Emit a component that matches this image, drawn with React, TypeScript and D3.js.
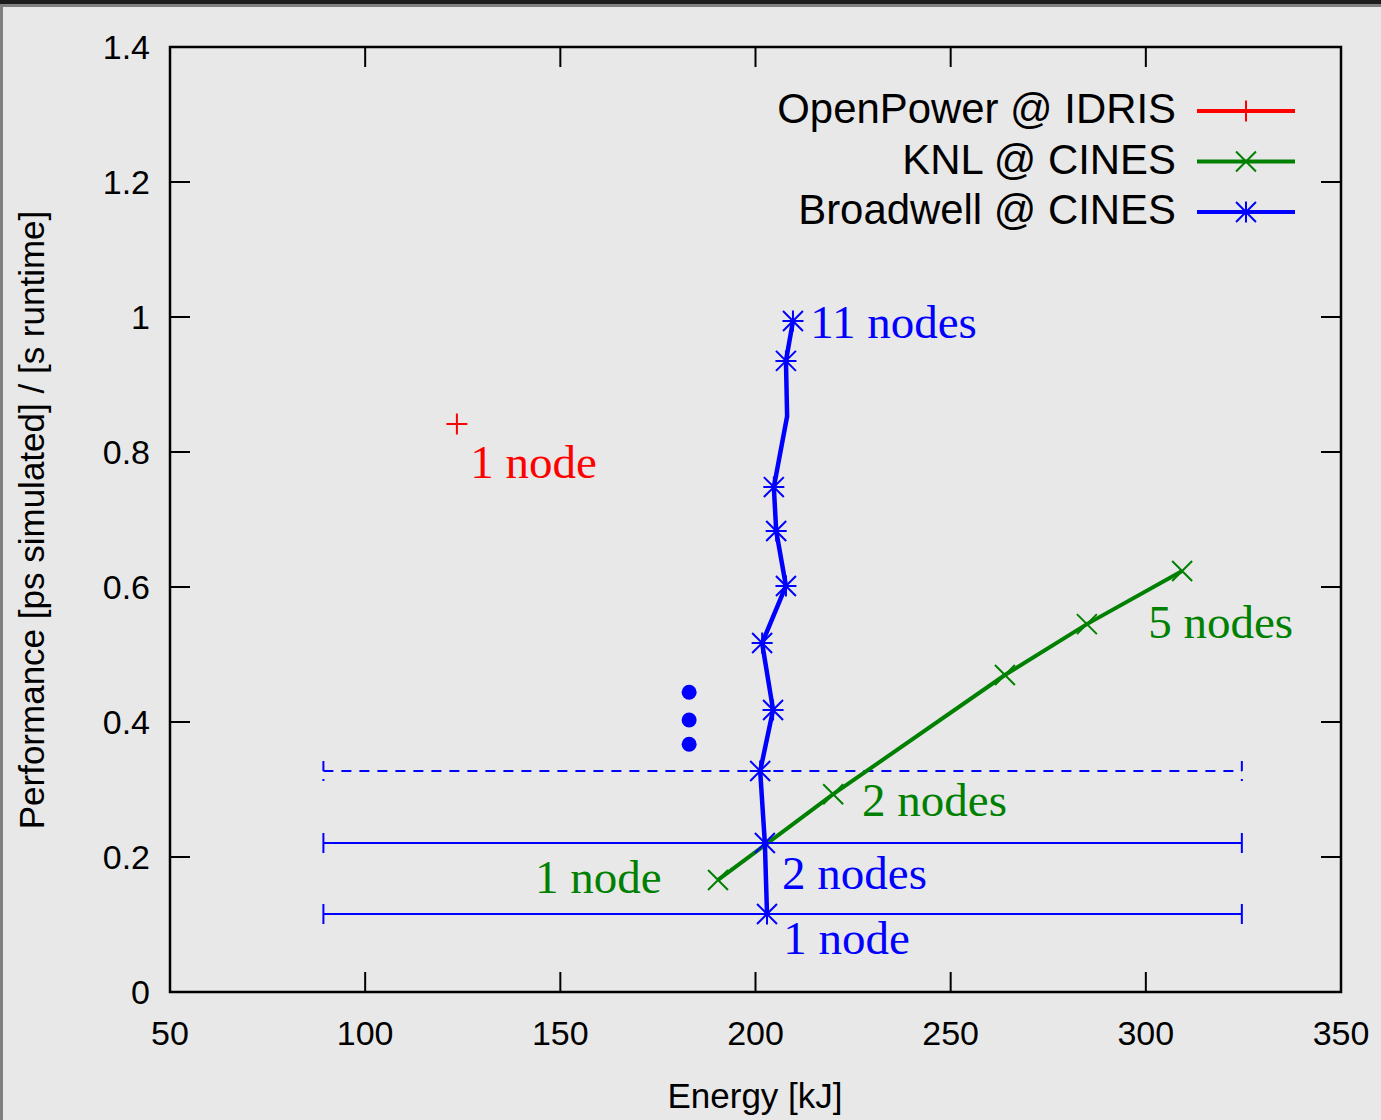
import React, { useEffect, useRef } from 'react';
import * as d3 from 'd3';

// [energy kJ, performance ps/s]
const openPower = [[123.5, 0.8415]];
const knl = [
  [190.4, 0.166],
  [219.9, 0.293],
  [263.9, 0.4696],
  [284.9, 0.545],
  [309.3, 0.6237],
];
const broadwell = [
  [202.95, 0.1156],
  [202.4, 0.2207],
  [201.2, 0.3274],
  [204.5, 0.4178],
  [201.7, 0.517],
  [207.8, 0.6015],
  [205.3, 0.683],
  [204.7, 0.748],
  [208.1, 0.853],
  [207.8, 0.935],
  [209.6, 0.994],
];
// the vertex at this index has no point symbol in the original
const broadwellNoMarker = [8];

// horizontal error bars: [xlow, xhigh, y, dashed]
const errorBars: [number, number, number, boolean][] = [
  [89.3, 324.6, 0.1156, false],
  [89.3, 324.6, 0.2207, false],
  [89.3, 324.6, 0.3274, true],
];

// "..." dots
const ellipsisDots = [
  [183.0, 0.444],
  [183.0, 0.403],
  [183.0, 0.367],
];

// labels: [text, x, y, colour]
const labels: [string, number, number, string][] = [
  ['11 nodes', 214.0, 0.969, '#0000ff'],
  ['1 node', 126.9, 0.761, '#ff0000'],
  ['5 nodes', 300.6, 0.524, '#008000'],
  ['2 nodes', 227.3, 0.261, '#008000'],
  ['1 node', 143.5, 0.147, '#008000'],
  ['2 nodes', 206.8, 0.153, '#0000ff'],
  ['1 node', 207.1, 0.0563, '#0000ff'],
];

const xTicks = [50, 100, 150, 200, 250, 300, 350];
const yTicks = [0, 0.2, 0.4, 0.6, 0.8, 1, 1.2, 1.4];

const legendItems: [string, string, string][] = [
  ['OpenPower @ IDRIS', '#ff0000', 'plus'],
  ['KNL @ CINES', '#008000', 'cross'],
  ['Broadwell @ CINES', '#0000ff', 'star'],
];

const SANS = '"Liberation Sans", Arial, sans-serif';
const SERIF = '"Liberation Serif", "Times New Roman", serif';

function symbolPath(kind: string, cx: number, cy: number, r = 10.5) {
  const d = r * 0.95;
  const plus = `M${cx - r},${cy}H${cx + r}M${cx},${cy - r}V${cy + r}`;
  const cross = `M${cx - d},${cy - d}L${cx + d},${cy + d}M${cx - d},${cy + d}L${cx + d},${cy - d}`;
  if (kind === 'plus') return plus;
  if (kind === 'cross') return cross;
  return plus + cross;
}

const App: React.FC = () => {
  const svgRef = useRef<SVGSVGElement>(null);

  useEffect(() => {
    if (!svgRef.current) return;
    const svg = d3.select(svgRef.current);
    svg.selectAll('*').remove();

    const W = 1381, H = 1120;
    const left = 170, right = 1341, top = 47, bottom = 992;

    const x = d3.scaleLinear().domain([50, 350]).range([left, right]);
    const y = d3.scaleLinear().domain([0, 1.4]).range([bottom, top]);

    // background and the window edges
    svg.append('rect').attr('width', W).attr('height', H).attr('fill', '#e8e8e8');
    svg.append('rect').attr('x', 0).attr('y', 0).attr('width', 3).attr('height', H).attr('fill', '#808080');
    svg.append('rect').attr('x', 0).attr('y', 4).attr('width', W).attr('height', 3).attr('fill', '#808080');
    svg.append('rect').attr('x', 0).attr('y', 0).attr('width', W).attr('height', 4).attr('fill', '#1c1c1c');

    // ticks, mirrored on all sides
    const tickLen = 20;
    const ticks = svg.append('g').attr('stroke', '#000').attr('stroke-width', 2);
    xTicks.forEach(t => {
      ticks.append('line').attr('x1', x(t)).attr('x2', x(t)).attr('y1', bottom).attr('y2', bottom - tickLen);
      ticks.append('line').attr('x1', x(t)).attr('x2', x(t)).attr('y1', top).attr('y2', top + tickLen);
    });
    yTicks.forEach(t => {
      ticks.append('line').attr('x1', left).attr('x2', left + tickLen).attr('y1', y(t)).attr('y2', y(t));
      ticks.append('line').attr('x1', right).attr('x2', right - tickLen).attr('y1', y(t)).attr('y2', y(t));
    });

    // tick labels
    svg.append('g').selectAll('text').data(xTicks).enter().append('text')
      .attr('x', d => x(d)).attr('y', 1045)
      .attr('text-anchor', 'middle')
      .style('font-family', SANS).style('font-size', '34px')
      .text(d => String(d));
    svg.append('g').selectAll('text').data(yTicks).enter().append('text')
      .attr('x', 150).attr('y', d => y(d) + 12)
      .attr('text-anchor', 'end')
      .style('font-family', SANS).style('font-size', '34px')
      .text(d => String(d));

    // axis titles
    svg.append('text').attr('x', 755).attr('y', 1108).attr('text-anchor', 'middle')
      .style('font-family', SANS).style('font-size', '35px').text('Energy [kJ]');
    svg.append('text').attr('transform', 'translate(44,520) rotate(-90)').attr('text-anchor', 'middle')
      .style('font-family', SANS).style('font-size', '35px').text('Performance [ps simulated] / [s runtime]');

    // error bars
    const capH = 10;
    errorBars.forEach(([lo, hi, v, dashed]) => {
      const yy = y(v);
      const p = `M${x(lo)},${yy - capH}V${yy + capH}M${x(lo)},${yy}H${x(hi)}M${x(hi)},${yy - capH}V${yy + capH}`;
      svg.append('path').attr('d', p).attr('fill', 'none')
        .attr('stroke', '#0000ff').attr('stroke-width', 2)
        .attr('stroke-dasharray', dashed ? '10,8' : null);
    });

    const line = d3.line<number[]>().x(d => x(d[0])).y(d => y(d[1]));

    // KNL
    svg.append('path').attr('d', line(knl)).attr('fill', 'none')
      .attr('stroke', '#008000').attr('stroke-width', 4);
    knl.forEach(d => {
      svg.append('path').attr('d', symbolPath('cross', x(d[0]), y(d[1]))).attr('fill', 'none')
        .attr('stroke', '#008000').attr('stroke-width', 2);
    });

    // Broadwell
    svg.append('path').attr('d', line(broadwell)).attr('fill', 'none')
      .attr('stroke', '#0000ff').attr('stroke-width', 4.5).attr('stroke-linejoin', 'round');
    broadwell.forEach((d, i) => {
      if (broadwellNoMarker.includes(i)) return;
      svg.append('path').attr('d', symbolPath('star', x(d[0]), y(d[1]))).attr('fill', 'none')
        .attr('stroke', '#0000ff').attr('stroke-width', 2);
    });

    // OpenPower
    openPower.forEach(d => {
      svg.append('path').attr('d', symbolPath('plus', x(d[0]), y(d[1]))).attr('fill', 'none')
        .attr('stroke', '#ff0000').attr('stroke-width', 2);
    });

    // dots
    svg.append('g').selectAll('circle').data(ellipsisDots).enter().append('circle')
      .attr('cx', d => x(d[0])).attr('cy', d => y(d[1])).attr('r', 7.5).attr('fill', '#0000ff');

    // annotations
    svg.append('g').selectAll('text').data(labels).enter().append('text')
      .attr('x', d => x(d[1])).attr('y', d => y(d[2]))
      .attr('fill', d => d[3])
      .style('font-family', SERIF).style('font-size', '47px')
      .text(d => d[0]);

    // legend
    legendItems.forEach(([name, color, kind], i) => {
      const ly = 111 + i * 50.5;
      svg.append('text').attr('x', 1176).attr('y', ly + 12).attr('text-anchor', 'end')
        .style('font-family', SANS).style('font-size', '41.9px').text(name);
      svg.append('line').attr('x1', 1197).attr('x2', 1295).attr('y1', ly).attr('y2', ly)
        .attr('stroke', color).attr('stroke-width', 4);
      svg.append('path').attr('d', symbolPath(kind, 1246, ly)).attr('fill', 'none')
        .attr('stroke', color).attr('stroke-width', 2);
    });

    // frame
    svg.append('rect').attr('x', left).attr('y', top).attr('width', right - left).attr('height', bottom - top)
      .attr('fill', 'none').attr('stroke', '#000').attr('stroke-width', 2.5);
  }, []);

  return (
    <svg ref={svgRef} width={1381} height={1120}
      style={{ position: 'absolute', left: 0, top: 0, display: 'block' }} />
  );
};

export default App;
